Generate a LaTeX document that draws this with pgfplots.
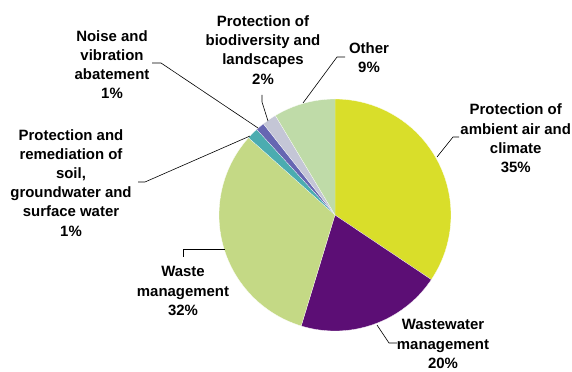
\documentclass[border=0pt]{standalone}
\usepackage{fontspec}
\setmainfont{Liberation Sans}
\usepackage{pgfplots}
\pgfplotsset{compat=1.18}
\definecolor{cAir}{HTML}{D9DE2A}
\definecolor{cWW}{HTML}{5C0E75}
\definecolor{cWaste}{HTML}{C4D985}
\definecolor{cSoil}{HTML}{4BACB0}
\definecolor{cNoise}{HTML}{6666B2}
\definecolor{cBio}{HTML}{C4C6D6}
\definecolor{cOther}{HTML}{BFDBA8}
% shares (per cent), clockwise from 12 o'clock
\def\vAir{34.4}
\def\vWW{20.3}
\def\vWaste{31.9}
\def\vSoil{1.6}
\def\vNoise{1.2}
\def\vBio{2.0}
\def\vOther{8.6}
\pgfmathsetmacro\aA{90}
\pgfmathsetmacro\aB{\aA-3.6*\vAir}
\pgfmathsetmacro\aC{\aB-3.6*\vWW}
\pgfmathsetmacro\aD{\aC-3.6*\vWaste}
\pgfmathsetmacro\aE{\aD-3.6*\vSoil}
\pgfmathsetmacro\aF{\aE-3.6*\vNoise}
\pgfmathsetmacro\aG{\aF-3.6*\vBio}
\pgfmathsetmacro\aH{\aG-3.6*\vOther}
\def\cx{335}\def\cy{157}\def\rr{116}
\newcommand\slice[3]{%
\addplot[fill=#3, draw=white, line width=0.3pt, samples at={0,1,...,60,99}, variable=\u]
 ({\u>90 ? \cx : \cx+\rr*cos((#1)+((#2)-(#1))*\u/60)},
  {\u>90 ? \cy : \cy+\rr*sin((#1)+((#2)-(#1))*\u/60)});
}
\tikzset{lbl/.style={font=\bfseries\fontsize{15}{19.3}\selectfont, align=center, text=black, inner sep=0pt}}
\begin{document}
\begin{tikzpicture}
\begin{axis}[
  scale only axis, width=572bp, height=372bp,
  xmin=0, xmax=572, ymin=0, ymax=372,
  hide axis, clip=false,
]
\slice{\aB}{\aA}{cAir}
\slice{\aC}{\aB}{cWW}
\slice{\aD}{\aC}{cWaste}
\slice{\aE}{\aD}{cSoil}
\slice{\aF}{\aE}{cNoise}
\slice{\aG}{\aF}{cBio}
\slice{\aH}{\aG}{cOther}
% leader lines
\addplot[black, line width=0.6pt] coordinates {(437,215) (453,235) (459,235)};
\addplot[black, line width=0.6pt] coordinates {(377,47) (389,29) (397,29)};
\addplot[black, line width=0.6pt] coordinates {(225,123) (183,123) (183,115)};
\addplot[black, line width=0.6pt] coordinates {(250,236) (145,190) (138,190)};
\addplot[black, line width=0.6pt] coordinates {(258,244) (161,309) (152,309)};
\addplot[black, line width=0.6pt] coordinates {(268,251) (262,270) (262,277)};
\addplot[black, line width=0.6pt] coordinates {(303,269) (337,315) (345,315)};
% labels
\node[lbl] at (axis cs:515.7,233.5) {Protection of\\ambient air and\\climate\\35\%};
\node[lbl] at (axis cs:443,28) {Wastewater\\management\\20\%};
\node[lbl] at (axis cs:183,81) {Waste\\management\\32\%};
\node[lbl] at (axis cs:71,189.2) {Protection and\\remediation of\\soil,\\groundwater and\\surface water\\1\%};
\node[lbl] at (axis cs:112,307.5) {Noise and\\vibration\\abatement\\1\%};
\node[lbl] at (axis cs:263,322) {Protection of\\biodiversity and\\landscapes\\2\%};
\node[lbl] at (axis cs:369,314.5) {Other\\9\%};
\end{axis}
\pgfresetboundingbox
\path (0,0) rectangle (572bp,372bp);
\end{tikzpicture}
\end{document}
